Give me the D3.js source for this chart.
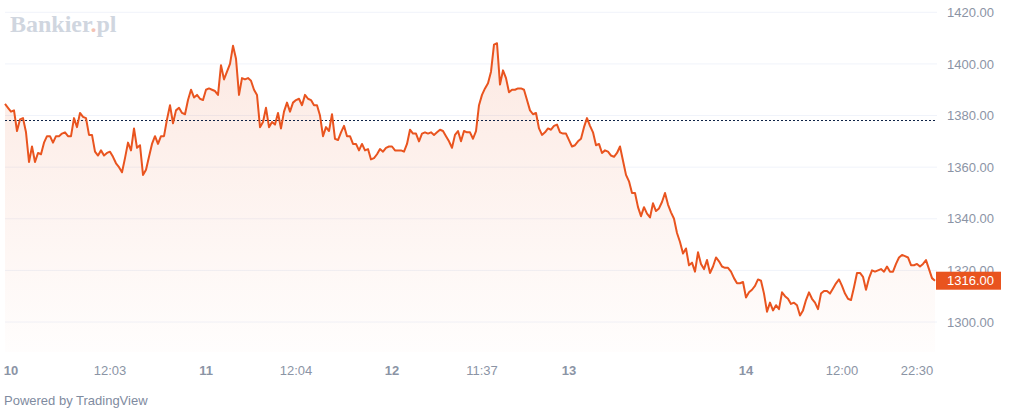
<!DOCTYPE html>
<html>
<head>
<meta charset="utf-8">
<script src="https://cdn.jsdelivr.net/npm/d3@7"></script>
<style>
  html, body { margin: 0; padding: 0; background: #fff; }
  svg { display: block; font-family: "Liberation Sans", Arial, sans-serif; }
</style>
</head>
<body>
<div id="target"></div>
<script>
// closing prices, one per bar
const prices = [
  1384.5, 1383, 1381.5, 1382, 1374, 1378.5, 1379, 1373.5, 1362, 1368,
  1362, 1365.5, 1365, 1369.5, 1372, 1372, 1369.5, 1372, 1372, 1373,
  1373.5, 1372, 1372, 1379, 1375.5, 1381, 1379.5, 1379, 1372.5, 1372.5,
  1366, 1364.5, 1366.5, 1364.5, 1365.5, 1366, 1364, 1361.5, 1360, 1358,
  1363.5, 1369.5, 1366.5, 1375, 1367.5, 1368.5, 1357, 1359, 1364, 1369,
  1372, 1369, 1372, 1372, 1378.5, 1384, 1377, 1382, 1383, 1381,
  1380.5, 1386, 1390, 1387, 1388, 1386.5, 1386, 1390, 1390.5, 1390,
  1389.5, 1388, 1399.5, 1394, 1397, 1400, 1407, 1402, 1388, 1394.5,
  1394, 1394.5, 1393.5, 1390, 1388, 1375.5, 1377.5, 1383, 1375.5, 1377.5,
  1376.5, 1381, 1375, 1381.5, 1385, 1381.5, 1385, 1386, 1386.5, 1384,
  1388, 1386.5, 1386, 1384, 1384, 1380, 1372, 1375.5, 1374, 1380.5,
  1371, 1370.5, 1373.5, 1376, 1372, 1372, 1369, 1369, 1366.5, 1369,
  1366.5, 1367, 1363, 1363.5, 1365, 1367, 1366, 1367.5, 1368, 1368,
  1366.5, 1366.5, 1366.5, 1366, 1369, 1374.5, 1373, 1373, 1370, 1373,
  1373.5, 1373, 1373.5, 1372.5, 1373.5, 1374.5, 1374, 1372, 1370, 1367.5,
  1372.5, 1374, 1370, 1374, 1373.5, 1373.5, 1371, 1374, 1384, 1388,
  1390.5, 1392.5, 1397, 1407.5, 1408, 1392, 1397.5, 1394.5, 1389, 1390,
  1390, 1390.5, 1390.5, 1390, 1386, 1382, 1380.5, 1381, 1375, 1372.5,
  1373.5, 1375, 1374.5, 1376, 1376.5, 1373.5, 1373, 1373, 1370.5, 1368,
  1368.5, 1370, 1371, 1375.5, 1379, 1376, 1373.5, 1368.5, 1369, 1365.5,
  1366.5, 1366, 1364.5, 1364, 1365.5, 1368, 1362.5, 1357, 1354.5, 1350,
  1350, 1344.5, 1341, 1344.5, 1342, 1340.5, 1346, 1343, 1344, 1346.5,
  1350, 1345.5, 1342.5, 1340, 1334.5, 1331, 1326.5, 1328.5, 1322, 1323,
  1319.5, 1327, 1322.5, 1320.5, 1324, 1319, 1321.5, 1325, 1323.5, 1321.5,
  1321, 1321, 1319.5, 1317, 1315, 1315, 1315.5, 1309.5, 1311.5, 1312.5,
  1314, 1316.5, 1316, 1311, 1304, 1307.5, 1304.5, 1306.5, 1305, 1311.5,
  1310, 1309, 1307, 1307.5, 1306.5, 1302.5, 1304.5, 1308.5, 1311.5, 1309,
  1307.5, 1305, 1311, 1312, 1312, 1311, 1313, 1315, 1316.5, 1314,
  1311, 1309, 1308.5, 1313.5, 1319, 1319, 1317.5, 1312.5, 1317, 1320,
  1319.5, 1320, 1320.5, 1319.5, 1321.5, 1319.5, 1319.5, 1322.5, 1325, 1326,
  1325.5, 1325, 1322, 1322, 1322.5, 1321.5, 1322.5, 1324, 1320.5, 1317, 1316
];

const prevClose = 1378.3;
const lastPrice = 1316.00;

const priceTicks = [1300, 1320, 1340, 1360, 1380, 1400, 1420];
const timeLabels = ["10", "12:03", "11", "12:04", "12", "11:37", "13", "14", "12:00", "22:30"];
const timeBars   = [2, 35, 67, 97, 129, 159, 188, 247, 279, 304];

const width = 1024, height = 410;
const pane = {left: 5, right: 937, top: 8, bottom: 352};

let svg = d3.select("#target").append("svg")
  .attr("width", width)
  .attr("height", height);

let x = d3.scaleLinear()
  .domain([0, prices.length - 1])
  .range([5, 935]);

let y = d3.scaleLinear()
  .domain([1300, 1420])
  .range([322, 12.3]);

let defs = svg.append("defs");
let grad = defs.append("linearGradient")
  .attr("id", "fill")
  .attr("gradientUnits", "userSpaceOnUse")
  .attr("x1", 0).attr("x2", 0)
  .attr("y1", 40).attr("y2", pane.bottom);
grad.append("stop").attr("offset", 0).attr("stop-color", "#e9541f").attr("stop-opacity", 0.13);
grad.append("stop").attr("offset", 1).attr("stop-color", "#e9541f").attr("stop-opacity", 0.01);

// the axis group is translated, so the clip rect is in its local coords
defs.append("clipPath").attr("id", "axisclip")
  .append("rect")
  .attr("x", 0).attr("y", pane.top)
  .attr("width", width - pane.right).attr("height", pane.bottom - pane.top);

// grid
svg.append("g")
  .selectAll("line")
  .data(priceTicks)
  .join("line")
  .attr("x1", pane.left).attr("x2", pane.right)
  .attr("y1", d => y(d)).attr("y2", d => y(d))
  .attr("stroke", "#f0f3fa")
  .attr("stroke-width", 1);

// watermark
let logo = svg.append("text")
  .attr("x", 10).attr("y", 32)
  .attr("font-family", "'Liberation Serif', 'DejaVu Serif', serif")
  .attr("font-weight", "bold")
  .attr("font-size", 24)
  .attr("fill", "#d0d6df");
logo.append("tspan").text("Bankier");
logo.append("tspan").attr("fill", "#f3c2b4").text(".");
logo.append("tspan").text("pl");

let area = d3.area()
  .x((d, i) => x(i))
  .y0(pane.bottom)
  .y1(d => y(d));

let valueline = d3.line()
  .x((d, i) => x(i))
  .y(d => y(d));

svg.append("path")
  .datum(prices)
  .attr("d", area)
  .attr("fill", "url(#fill)");

// previous close
svg.append("line")
  .attr("x1", pane.left).attr("x2", pane.right)
  .attr("y1", Math.round(y(prevClose)) + 0.5).attr("y2", Math.round(y(prevClose)) + 0.5)
  .attr("stroke", "#0f2347")
  .attr("stroke-width", 1)
  .attr("stroke-dasharray", "2,2");

svg.append("path")
  .datum(prices)
  .attr("d", valueline)
  .attr("fill", "none")
  .attr("stroke", "#e9541f")
  .attr("stroke-width", 2)
  .attr("stroke-linejoin", "round");

// price axis
let yAxis = svg.append("g")
  .attr("clip-path", "url(#axisclip)")
  .attr("transform", `translate(${pane.right},0)`)
  .call(d3.axisRight(y).tickValues(priceTicks).tickSize(0).tickPadding(10).tickFormat(d3.format(".2f")));
yAxis.select(".domain").remove();
yAxis.selectAll("text")
  .attr("font-family", "'Liberation Sans', Arial, sans-serif")
  .attr("font-size", 13)
  .attr("fill", "#8b94a5");

// last price badge
let badge = svg.append("g").attr("transform", `translate(${pane.right},${y(lastPrice)})`);
badge.append("rect")
  .attr("x", -1).attr("y", -9)
  .attr("width", 65).attr("height", 18)
  .attr("fill", "#e9541f");
badge.append("text")
  .attr("x", 10).attr("dy", "0.35em")
  .attr("font-size", 13)
  .attr("fill", "#fff")
  .text(d3.format(".2f")(lastPrice));

// time axis
svg.append("g")
  .selectAll("text")
  .data(timeLabels)
  .join("text")
  .attr("x", (d, i) => x(timeBars[i]))
  .attr("y", 375)
  .attr("text-anchor", "middle")
  .attr("font-size", 13)
  .attr("font-weight", d => d.includes(":") ? "normal" : "bold")
  .attr("fill", "#8b94a5")
  .text(d => d);

svg.append("text")
  .attr("x", 4).attr("y", 405)
  .attr("font-size", 13)
  .attr("fill", "#7f8ba0")
  .text("Powered by TradingView");
</script>
</body>
</html>
